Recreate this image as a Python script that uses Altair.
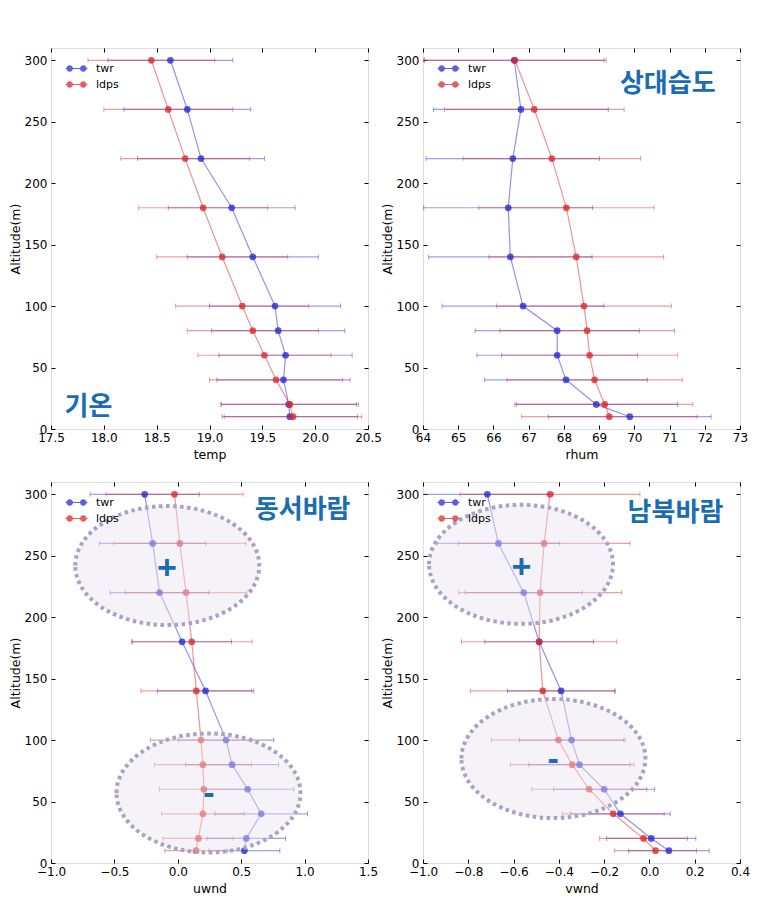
import altair as alt
import pandas as pd

# ---------------- data ----------------
altitude = [300, 260, 220, 180, 140, 100, 80, 60, 40, 20, 10]
series = ["twr", "ldps"]
series_colors = ["#2a2ad6", "#dd2a2a"]

temp_twr = [18.63, 18.79, 18.92, 19.21, 19.41, 19.62, 19.65, 19.72, 19.70, 19.75, 19.76]
temp_twr_std = [0.59, 0.60, 0.60, 0.60, 0.62, 0.62, 0.63, 0.63, 0.63, 0.64, 0.64]
temp_ldps = [18.45, 18.61, 18.77, 18.94, 19.12, 19.31, 19.41, 19.52, 19.63, 19.76, 19.79]
temp_ldps_std = [0.60, 0.61, 0.61, 0.61, 0.62, 0.63, 0.62, 0.63, 0.63, 0.65, 0.65]

rhum_twr = [66.59, 66.78, 66.55, 66.42, 66.48, 66.84, 67.81, 67.81, 68.06, 68.92, 69.87]
rhum_twr_std = [2.55, 2.48, 2.46, 2.40, 2.32, 2.30, 2.33, 2.28, 2.31, 2.31, 2.31]
rhum_ldps = [66.61, 67.16, 67.66, 68.07, 68.35, 68.57, 68.66, 68.73, 68.87, 69.16, 69.29]
rhum_ldps_std = [2.59, 2.55, 2.52, 2.49, 2.48, 2.48, 2.48, 2.50, 2.49, 2.50, 2.49]

uwnd_twr = [-0.261, -0.198, -0.144, 0.034, 0.219, 0.381, 0.428, 0.551, 0.658, 0.540, 0.525]
uwnd_twr_std = [0.43, 0.42, 0.39, 0.39, 0.38, 0.376, 0.366, 0.363, 0.365, 0.31, 0.28]
uwnd_ldps = [-0.026, 0.016, 0.065, 0.110, 0.146, 0.183, 0.198, 0.206, 0.198, 0.162, 0.144]
uwnd_ldps_std = [0.54, 0.52, 0.48, 0.475, 0.436, 0.40, 0.383, 0.35, 0.326, 0.277, 0.246]

vwnd_twr = [-0.716, -0.667, -0.555, -0.487, -0.390, -0.344, -0.309, -0.200, -0.128, 0.008, 0.086]
vwnd_twr_std = [0.29, 0.271, 0.258, 0.24, 0.237, 0.231, 0.224, 0.223, 0.22, 0.197, 0.178]
vwnd_ldps = [-0.439, -0.465, -0.483, -0.487, -0.471, -0.402, -0.341, -0.266, -0.160, -0.026, 0.027]
vwnd_ldps_std = [0.397, 0.379, 0.36, 0.343, 0.32, 0.296, 0.273, 0.254, 0.225, 0.194, 0.181]

alt_ticks = [0, 50, 100, 150, 200, 250, 300]
temp_ticks = [17.5, 18.0, 18.5, 19.0, 19.5, 20.0, 20.5]
rhum_ticks = [64, 65, 66, 67, 68, 69, 70, 71, 72, 73]
uwnd_ticks = [-1.0, -0.5, 0.0, 0.5, 1.0, 1.5]
vwnd_ticks = [-1.0, -0.8, -0.6, -0.4, -0.2, 0.0, 0.2, 0.4]

panel_labels = ["기온", "상대습도", "동서바람", "남북바람"]
panel_label_x = [17.855, 70.95, 0.985, 0.115]
panel_label_y = [18, 281, 287, 285]

# highlighted regions (ellipse centres) and their signs
ell_uwnd_x = [-0.083, 0.242]
ell_uwnd_y = [242, 57]
ell_vwnd_x = [-0.567, -0.424]
ell_vwnd_y = [243, 85]
sign_text = ["+", "-"]
sign_uwnd_x = [-0.086, 0.245]
sign_uwnd_y = [239, 56]
sign_vwnd_x = [-0.565, -0.425]
sign_vwnd_y = [240, 84]

FONT = "DejaVu Sans"
KFONT = "Noto Sans CJK KR"
ANN_COLOR = "#1a6cb3"

LEGEND_PATH = ("M-2.2,-0.12L2.2,-0.12L2.2,0.12L-2.2,0.12Z"
               "M-2.02,0A0.66,0.66,0,1,1,-0.7,0A0.66,0.66,0,1,1,-2.02,0Z"
               "M0.7,0A0.66,0.66,0,1,1,2.02,0A0.66,0.66,0,1,1,0.7,0Z")
ELLIPSE_PATH = "M-1,0A1,0.647,0,1,1,1,0A1,0.647,0,1,1,-1,0Z"

# colour range for the data-derived (alphabetical) group domain
grp_range = [series_colors[series.index(s)] for s in sorted(series)]


def make_df(twr, twr_std, ldps, ldps_std):
    rows = []
    for name, m, s in (("twr", twr, twr_std), ("ldps", ldps, ldps_std)):
        for a, v, e in zip(altitude, m, s):
            rows.append({"series": name, "grp": name, "alt": a, "val": v,
                         "lo": v - e, "hi": v + e})
    return pd.DataFrame(rows)


def panel(df, var, xdom, xticks, xfmt, idx, ell=None, signs=None):
    xscale = alt.Scale(domain=xdom, nice=False, zero=False)
    yscale = alt.Scale(domain=[0, 310], nice=False, zero=False)
    cscale = alt.Scale(domain=series, range=series_colors)
    gscale = alt.Scale(range=grp_range)

    common = dict(offset=-4, tickSize=4, domain=False, grid=False,
                  tickColor="black", labelFont=FONT, titleFont=FONT,
                  labelColor="black", titleColor="black")
    bottom_axis = alt.Axis(orient="bottom", values=xticks, format=xfmt, title=var,
                           labelFlush=False, labelOverlap=False, labelPadding=3,
                           labelFontSize=12, titleFontSize=12.5, titleFontWeight="normal",
                           titlePadding=5, **common)
    left_axis = alt.Axis(orient="left", values=alt_ticks, format="d", title="Altitude(m)",
                         labelFlush=False, labelOverlap=False, labelPadding=4,
                         labelFontSize=12, titleFontSize=12.5, titleFontWeight="normal",
                         titlePadding=2, **common)
    top_axis = alt.Axis(orient="top", values=xticks, labels=False, title="", **common)
    right_axis = alt.Axis(orient="right", values=alt_ticks, labels=False, title="", **common)

    caps = df.melt(id_vars=["grp", "alt"], value_vars=["lo", "hi"], value_name="cap")

    base = alt.Chart(df)
    rules = base.mark_rule(strokeWidth=1.2, opacity=0.45, clip=True).encode(
        x=alt.X("lo:Q", scale=xscale, axis=bottom_axis),
        x2="hi:Q",
        y=alt.Y("alt:Q", scale=yscale, axis=left_axis),
        stroke=alt.Stroke("grp:N", scale=gscale, legend=None),
    )
    capmarks = alt.Chart(caps).mark_tick(orient="vertical", size=5, thickness=1,
                                          opacity=0.45, clip=True).encode(
        x=alt.X("cap:Q", scale=xscale, axis=top_axis),
        y=alt.Y("alt:Q", scale=yscale, axis=right_axis),
        fill=alt.Fill("grp:N", scale=gscale, legend=None),
    )
    lines = base.mark_line(strokeWidth=1.2, opacity=0.5).encode(
        x=alt.X("val:Q", scale=xscale, axis=None),
        y=alt.Y("alt:Q", scale=yscale, axis=None),
        order="alt:Q",
        stroke=alt.Stroke("grp:N", scale=gscale, legend=None),
    )
    points = base.mark_point(filled=True, size=45, opacity=0.8).encode(
        x=alt.X("val:Q", scale=xscale, axis=None),
        y=alt.Y("alt:Q", scale=yscale, axis=None),
        color=alt.Color("series:N", scale=cscale,
                        legend=alt.Legend(orient="none", legendX=20, legendY=15,
                                          title=None, symbolType=LEGEND_PATH,
                                          symbolSize=100, symbolStrokeWidth=0,
                                          symbolOpacity=0.75, labelFont=FONT,
                                          labelFontSize=11, labelColor="black",
                                          labelOffset=14, rowPadding=4, padding=0)),
    )
    layers = [rules, capmarks, lines, points]

    if ell is not None:
        edf = pd.DataFrame({"cx": ell[0], "cy": ell[1]})
        ellipses = alt.Chart(edf).mark_point(
            shape=ELLIPSE_PATH, size=33856, filled=True, fill="#e8e2ef",
            fillOpacity=0.45, stroke="#a7a3c6", strokeWidth=4, strokeDash=[3.5, 3.5],
            strokeOpacity=1, opacity=1,
        ).encode(
            x=alt.X("cx:Q", scale=xscale, axis=None),
            y=alt.Y("cy:Q", scale=yscale, axis=None),
        )
        layers.append(ellipses)
    if signs is not None:
        sdf = pd.DataFrame({"t": sign_text, "sx": signs[0], "sy": signs[1]})
        stext = alt.Chart(sdf).mark_text(
            font="Liberation Sans", fontSize=34, fontWeight="bold", color=ANN_COLOR,
            align="center", baseline="middle",
        ).encode(
            x=alt.X("sx:Q", scale=xscale, axis=None),
            y=alt.Y("sy:Q", scale=yscale, axis=None),
            text="t:N",
        )
        layers.append(stext)

    ldf = pd.DataFrame({"t": [panel_labels[idx]], "lx": [panel_label_x[idx]],
                        "ly": [panel_label_y[idx]]})
    label = alt.Chart(ldf).mark_text(
        font=KFONT, fontSize=26, fontWeight="bold", color=ANN_COLOR,
        align="center", baseline="middle",
    ).encode(
        x=alt.X("lx:Q", scale=xscale, axis=None),
        y=alt.Y("ly:Q", scale=yscale, axis=None),
        text="t:N",
    )
    layers.append(label)

    return alt.layer(*layers).properties(width=317, height=381)


p1 = panel(make_df(temp_twr, temp_twr_std, temp_ldps, temp_ldps_std),
           "temp", [17.5, 20.5], temp_ticks, ".1f", 0)
p2 = panel(make_df(rhum_twr, rhum_twr_std, rhum_ldps, rhum_ldps_std),
           "rhum", [64, 73], rhum_ticks, "d", 1)
p3 = panel(make_df(uwnd_twr, uwnd_twr_std, uwnd_ldps, uwnd_ldps_std),
           "uwnd", [-1.0, 1.5], uwnd_ticks, ".1f", 2,
           ell=(ell_uwnd_x, ell_uwnd_y), signs=(sign_uwnd_x, sign_uwnd_y))
p4 = panel(make_df(vwnd_twr, vwnd_twr_std, vwnd_ldps, vwnd_ldps_std),
           "vwnd", [-1.0, 0.4], vwnd_ticks, ".1f", 3,
           ell=(ell_vwnd_x, ell_vwnd_y), signs=(sign_vwnd_x, sign_vwnd_y))

chart = alt.concat(p1, p2, p3, p4, columns=2, spacing={"row": 53, "column": 55},
                   bounds="flush").resolve_scale(
    color="independent", stroke="independent", fill="independent"
).properties(
    padding={"left": 0, "top": 39, "right": 5, "bottom": 5}
).configure_view(stroke="black", strokeWidth=1).configure(background="white")

chart.save("out.html", embed_options={"renderer": "svg", "actions": False})
